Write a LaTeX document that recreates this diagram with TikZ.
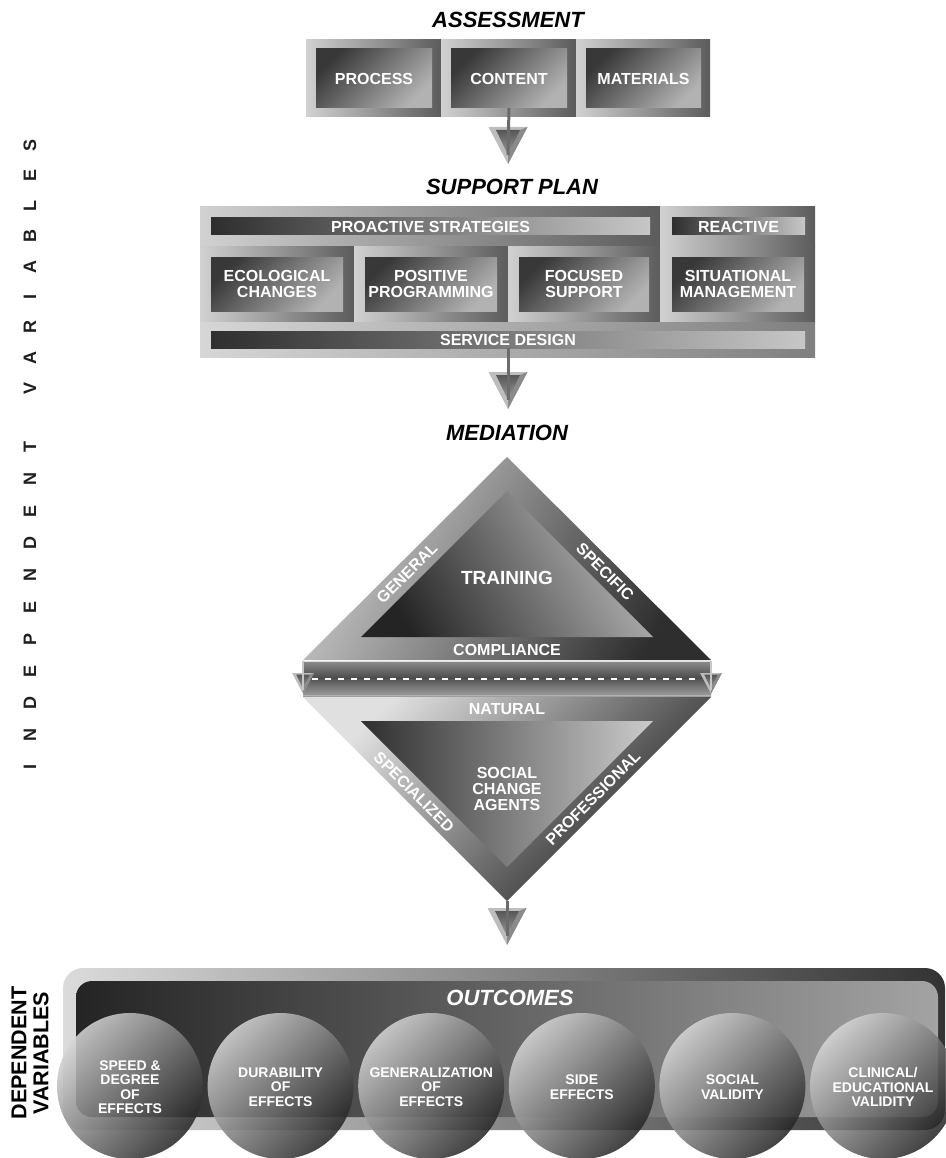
\documentclass[tikz,border=0pt]{standalone}
\usepackage{fontspec}
\setmainfont{Liberation Sans}
\begin{document}
\begin{tikzpicture}[x=1pt,y=-1pt,
  every node/.style={inner sep=0pt, outer sep=0pt, align=center, text=white},
  lbl/.style={font=\fontsize{16}{16}\selectfont\bfseries},
  bigl/.style={font=\fontsize{19}{19}\selectfont\bfseries},
  small/.style={font=\fontsize{14}{14.4}\selectfont\bfseries},
  heading/.style={font=\fontsize{22}{24}\selectfont\bfseries\itshape, text=black},
  sidelbl/.style={font=\fontsize{18}{18}\selectfont\bfseries, text=black!88},
  cellframe/.style={left color=black!18, right color=black!64},
  innerbox/.style={shade, top color=black!78, bottom color=black!30, shading angle=45, lbl},
  barbox/.style={shade, left color=black!82, right color=black!22, lbl},
  shaftline/.style={black!58, line width=3},
  pics/droparrow/.style={code={
    \fill[black!26] (-19.5,0) -- (19.5,0) -- (0,37) -- cycle;
    \fill[black!46] (19.5,0) -- (0,37) -- (0,28) -- (12,3) -- cycle;
    \shade[top color=black!66, bottom color=black!40] (-12,3) -- (12,3) -- (0,28) -- cycle;
  }}
]
\useasboundingbox (0,0) rectangle (945,1158);

% ---------- Assessment ----------
\node[heading] (assess) at (508,20) {ASSESSMENT};
\shade[cellframe] (306,40) rectangle (441,117);
\shade[cellframe] (441,40) rectangle (576,117);
\shade[cellframe] (576,40) rectangle (710,117);
\node[innerbox, minimum width=116, minimum height=59] (process) at (374,78.5) {PROCESS};
\node[innerbox, minimum width=116, minimum height=59] (content) at (509,78.5) {CONTENT};
\node[innerbox, minimum width=115, minimum height=59] (materials) at (643.5,78.5) {MATERIALS};

\coordinate (arrA) at (508,127);
\coordinate (tipA) at (508,155);
\pic at (arrA) {droparrow};
\draw[shaftline] (content.south) -- (tipA);

% ---------- Support plan ----------
\node[heading] (plan) at (512,187) {SUPPORT PLAN};
\shade[cellframe] (200,207) rectangle (660,247);
\shade[cellframe] (660,207) rectangle (815,247);
\node[barbox, minimum width=439, minimum height=17] (proactive) at (430.5,226.5) {PROACTIVE STRATEGIES};
\node[barbox, minimum width=133, minimum height=17] (reactive) at (738.5,226.5) {REACTIVE};

\shade[cellframe] (200,247) rectangle (354,322);
\shade[cellframe] (354,247) rectangle (508,322);
\shade[cellframe] (508,247) rectangle (660,322);
\shade[cellframe] (660,247) rectangle (815,322);
\node[innerbox, minimum width=132, minimum height=54] (eco) at (277,284) {ECOLOGICAL\\CHANGES};
\node[innerbox, minimum width=132, minimum height=54] (pos) at (431,284) {POSITIVE\\PROGRAMMING};
\node[innerbox, minimum width=130, minimum height=54] (foc) at (584,284) {FOCUSED\\SUPPORT};
\node[innerbox, minimum width=132, minimum height=54] (sit) at (738,284) {SITUATIONAL\\MANAGEMENT};

\shade[left color=black!16, right color=black!50] (200,322) rectangle (815,357);
\node[barbox, minimum width=594, minimum height=17] (service) at (508,339.5) {SERVICE DESIGN};

\coordinate (arrB) at (508,372);
\coordinate (tipB) at (508,400);
\pic at (arrB) {droparrow};
\draw[shaftline] (service.south) -- (tipB);

% ---------- Mediation ----------
\node[heading] (mediation) at (507,433) {MEDIATION};

% upper triangle
\shade[top color=black!20, bottom color=black!82, shading angle=60]
  (507,457) -- (711,660) -- (303,660) -- cycle;
\shade[top color=black!28, bottom color=black!86, shading angle=-60]
  (507,491) -- (653,637) -- (361,637) -- cycle;
\node[bigl] (training) at (507,578) {TRAINING};
\node[lbl] (compliance) at (507,650) {COMPLIANCE};
\node[lbl, rotate=45] (general) at (407,573) {GENERAL};
\node[lbl, rotate=-45] (specific) at (605,572) {SPECIFIC};

% lower triangle
\shade[top color=black!12, bottom color=black!88, shading angle=45]
  (303,697) -- (711,697) -- (507,901) -- cycle;
\shade[left color=black!82, right color=black!20]
  (361,721) -- (653,721) -- (507,867) -- cycle;
\node[lbl] (natural) at (507,709) {NATURAL};
\node[lbl] (agents) at (507,789) {SOCIAL\\CHANGE\\AGENTS};
\node[lbl, rotate=-45] (specialized) at (414,792) {SPECIALIZED};
\node[lbl, rotate=45] (professional) at (593,798) {PROFESSIONAL};

% middle bar with end arrows
\shade[top color=black!45, bottom color=black!72] (303,661) rectangle (711,679);
\shade[top color=black!66, bottom color=black!38] (303,679) rectangle (711,696);
\draw[black!12, line width=1] (303,661.5) -- (711,661.5);
\draw[black!30, line width=0.8] (303,695.6) -- (711,695.6);
\draw[white, line width=1.6, dash pattern=on 6 off 7] (312,679) -- (702,679);
\coordinate (barL) at (303,661);
\coordinate (barR) at (711,661);
\coordinate (barLtip) at (303,690);
\coordinate (barRtip) at (711,690);
\pic[scale=0.56] at (303,673) {droparrow};
\pic[scale=0.56] at (711,673) {droparrow};
\draw[black!22, line width=1.5] (barL) -- (barLtip);
\draw[black!22, line width=1.5] (barR) -- (barRtip);

\coordinate (apex) at (507,901);
\coordinate (arrC) at (507,908);
\coordinate (tipC) at (507,936);
\pic at (arrC) {droparrow};
\draw[shaftline] (apex) -- (tipC);

% ---------- Outcomes ----------
\shade[rounded corners=20, left color=black!14, right color=black!80] (63,968) rectangle (945,1130);
\shade[rounded corners=16, left color=black!86, right color=black!36] (76,981) rectangle (938,1117);
\node[heading, text=white] (outcomes) at (510,998) {OUTCOMES};

\foreach \i/\txt in {0/{SPEED \&\\DEGREE\\OF\\EFFECTS},
                     1/{DURABILITY\\OF\\EFFECTS},
                     2/{GENERALIZATION\\OF\\EFFECTS},
                     3/{SIDE\\EFFECTS},
                     4/{SOCIAL\\VALIDITY},
                     5/{CLINICAL/\\EDUCATIONAL\\VALIDITY}} {
  \shade[fill opacity=0.86, top color=black!16, bottom color=black!86, shading angle=45]
    (130+150.6*\i,1086) circle (73);
  \node[small] (out\i) at (130+150.6*\i,1087) {\txt};
}

% ---------- Side labels ----------
\node[font=\fontsize{21.5}{22}\selectfont\bfseries, text=black, rotate=90] (dep) at (30,1053) {DEPENDENT\\VARIABLES};

\foreach \ch/\yy in {S/145, E/175.4, L/205.8, B/236.2, A/266.6, I/297, R/327.4, A/357.8, V/388.2,
                     T/447, N/479, E/511, D/543, N/575, E/607, P/639, E/671, D/703, N/735, I/767} {
  \node[sidelbl, rotate=90] (iv\yy) at (30,\yy) {\ch};
}
\end{tikzpicture}
\end{document}
